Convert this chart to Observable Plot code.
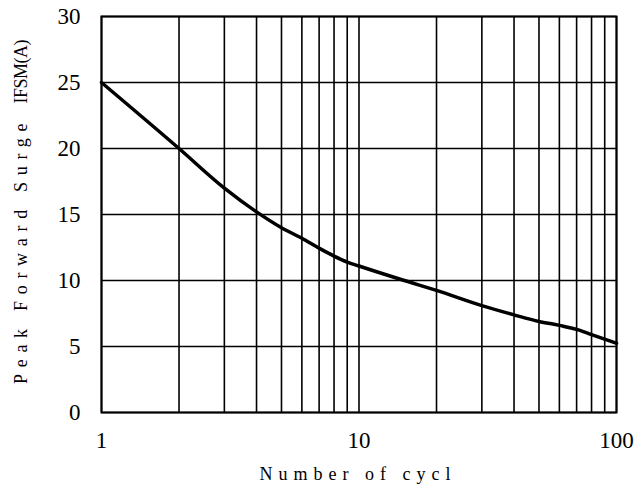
<!DOCTYPE html>
<html>
<head>
<meta charset="utf-8">
<script src="https://cdn.jsdelivr.net/npm/d3@7"></script>
<script src="https://cdn.jsdelivr.net/npm/@observablehq/plot@0.6"></script>
<style>
  html, body { margin: 0; padding: 0; background: #fff; }
  svg { display: block; }
</style>
</head>
<body>
<div id="chart"></div>
<script>
// Data
const cycles = [1, 2, 3, 4, 5, 6, 7, 8, 9, 10, 15, 20, 30, 40, 50, 60, 70, 80, 100];
const surgeAmps = [25, 20, 17, 15.2, 14, 13.2, 12.45, 11.85, 11.4, 11.1, 10.0, 9.25, 8.1, 7.4, 6.9, 6.6, 6.3, 5.9, 5.25];
const xGridValues = [1, 2, 3, 4, 5, 6, 7, 8, 9, 10, 20, 30, 40, 50, 60, 70, 80, 90, 100];
const xTickLabels = [1, 10, 100];
const yTickValues = [0, 5, 10, 15, 20, 25, 30];
const xTitle = "Number of cycl";
const yTitleMain = "Peak Forward Surge";
const yTitleOverlay = "IFSM(A)";

const data = cycles.map((c, i) => ({cycles: c, amps: surgeAmps[i]}));

const W = 644, H = 489;
const serif = "'Liberation Serif', 'Times New Roman', serif";
const chart = Plot.plot({
  width: W,
  height: H,
  marginLeft: 101,
  marginRight: 28,
  marginTop: 16,
  marginBottom: 77,
  style: {fontFamily: serif, fontSize: "23px", color: "#000", background: "#fff"},
  x: {type: "log", domain: [1, 100]},
  y: {domain: [0, 30]},
  marks: [
    Plot.gridX(xGridValues, {stroke: "#000", strokeOpacity: 1, strokeWidth: 1.6}),
    Plot.gridY(yTickValues, {stroke: "#000", strokeOpacity: 1, strokeWidth: 1.6}),
    Plot.axisX(xTickLabels, {tickSize: 0, tickPadding: 19, label: null, tickFormat: d => String(d), fontSize: 23}),
    Plot.axisY(yTickValues, {tickSize: 0, tickPadding: 21, label: null, fontSize: 23}),
    Plot.frame({stroke: "#000", strokeWidth: 2}),
    Plot.line(data, {x: "cycles", y: "amps", stroke: "#000", strokeWidth: 3.5, curve: "monotone-x"})
  ]
});

const svg = d3.select(chart);
// x axis title
svg.append("text")
  .attr("x", 358).attr("y", 480)
  .attr("text-anchor", "middle")
  .style("font-family", serif)
  .style("font-size", "18px")
  .style("letter-spacing", "6px")
  .attr("fill", "#000")
  .text(xTitle);
// y axis title (overlapping, as in reference)
svg.append("text")
  .attr("transform", "translate(27,384) rotate(-90)")
  .attr("text-anchor", "start")
  .style("font-family", serif)
  .style("font-size", "18px")
  .style("letter-spacing", "6.7px")
  .attr("fill", "#000")
  .text(yTitleMain);
svg.append("text")
  .attr("transform", "translate(27,40) rotate(-90)")
  .attr("text-anchor", "end")
  .style("font-family", serif)
  .style("font-size", "18px")
  .style("letter-spacing", "-0.5px")
  .attr("fill", "#000")
  .text(yTitleOverlay);

document.getElementById("chart").appendChild(chart);
</script>
</body>
</html>
